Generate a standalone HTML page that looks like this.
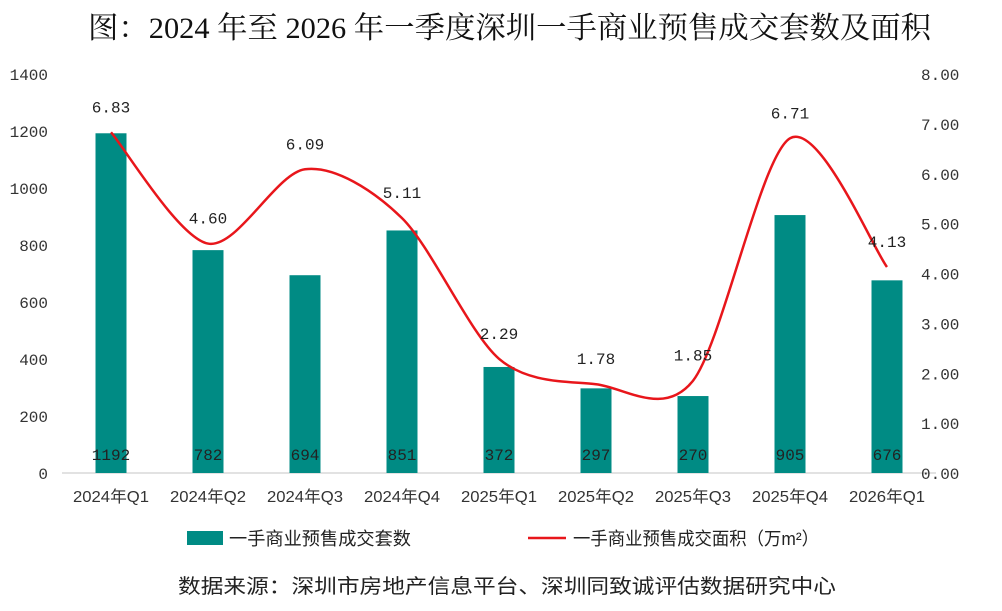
<!DOCTYPE html>
<html><head><meta charset="utf-8"><style>
body{margin:0;background:#fff;}
svg{display:block;font-family:"Liberation Serif","Noto Serif CJK SC",serif;}
</style></head><body>
<svg id="c" width="1002" height="611">
<text x="88" y="38" textLength="843" lengthAdjust="spacingAndGlyphs" font-size="30" fill="#111">图：2024 年至 2026 年一季度深圳一手商业预售成交套数及面积</text>
<g id="plot"></g>
<g>
<rect x="187" y="531" width="36" height="14" fill="#008B84"/>
<text x="229" y="545" textLength="182" lengthAdjust="spacingAndGlyphs" font-size="18" font-family="Liberation Sans,Noto Sans CJK SC,sans-serif" fill="#222">一手商业预售成交套数</text>
<line x1="528" y1="538" x2="566" y2="538" stroke="#E8161B" stroke-width="2.5"/>
<text x="573" y="545" textLength="246" lengthAdjust="spacingAndGlyphs" font-size="18" font-family="Liberation Sans,Noto Sans CJK SC,sans-serif" fill="#222">一手商业预售成交面积（万m²）</text>
</g>
<text x="178" y="593" textLength="658" lengthAdjust="spacingAndGlyphs" font-size="20" font-family="Liberation Sans,Noto Sans CJK SC,sans-serif" fill="#222">数据来源：深圳市房地产信息平台、深圳同致诚评估数据研究中心</text>
</svg>
<script>
const categories=["2024年Q1","2024年Q2","2024年Q3","2024年Q4","2025年Q1","2025年Q2","2025年Q3","2025年Q4","2026年Q1"];
const units=[1192,782,694,851,372,297,270,905,676];
const area=[6.83,4.60,6.09,5.11,2.29,1.78,1.85,6.71,4.13];
const leftTicks=[0,200,400,600,800,1000,1200,1400];
const rightTicks=[0,1,2,3,4,5,6,7,8];
const NS="http://www.w3.org/2000/svg";
const g=document.getElementById('plot');
const y0=473,yTop=74,x0=62,x1=936,step=97,first=111,bw=31;
const MONO="Liberation Mono,monospace";
const yL=v=>y0-(v/1400)*(y0-yTop);
const yR=v=>y0-(v/8)*(y0-yTop);
const xC=i=>first+i*step;
function mk(t,a){const e=document.createElementNS(NS,t);for(const k in a)e.setAttribute(k,a[k]);g.appendChild(e);return e;}
let ax=mk('line',{x1:x0,x2:x1,y1:y0,y2:y0,stroke:'#d9d9d9','stroke-width':1.5});


leftTicks.forEach(v=>{const t=mk('text',{x:48,y:yL(v)+6,'text-anchor':'end','font-size':16,fill:'#333','font-family':MONO});t.textContent=v;

});
rightTicks.forEach(v=>{const t=mk('text',{x:921,y:yR(v)+6,'font-size':16,fill:'#333','font-family':MONO});t.textContent=v.toFixed(2);

});
categories.forEach((c,i)=>{const t=mk('text',{x:xC(i)-38,y:502,textLength:76,lengthAdjust:'spacingAndGlyphs','font-size':16,fill:'#333','font-family':'Liberation Sans,Noto Sans CJK SC,sans-serif'});t.textContent=c;

});
units.forEach((v,i)=>{const r=mk('rect',{x:xC(i)-bw/2,y:yL(v),width:bw,height:y0-yL(v),fill:'#008B84'});


const t=mk('text',{x:xC(i),y:460,'text-anchor':'middle','font-size':16,fill:'#222','font-family':MONO});t.textContent=v;

});
const pts=area.map((v,i)=>[xC(i),yR(v)]);
let d='M'+pts[0][0]+','+pts[0][1];
const k=0.3;
for(let i=0;i<pts.length-1;i++){const p0=pts[i-1]||pts[i],p1=pts[i],p2=pts[i+1],p3=pts[i+2]||p2;
const c1=[p1[0]+(p2[0]-p0[0])*k/2,p1[1]+(p2[1]-p0[1])*k/2],c2=[p2[0]-(p3[0]-p1[0])*k/2,p2[1]-(p3[1]-p1[1])*k/2];
d+=' C'+c1+' '+c2+' '+p2;}
const ln=mk('path',{d:d,fill:'none',stroke:'#E8161B','stroke-width':2.5});


area.forEach((v,i)=>{const t=mk('text',{x:xC(i),y:yR(v)-20,'text-anchor':'middle','font-size':16,fill:'#222','font-family':MONO});t.textContent=v.toFixed(2);

});
</script>
</body></html>
